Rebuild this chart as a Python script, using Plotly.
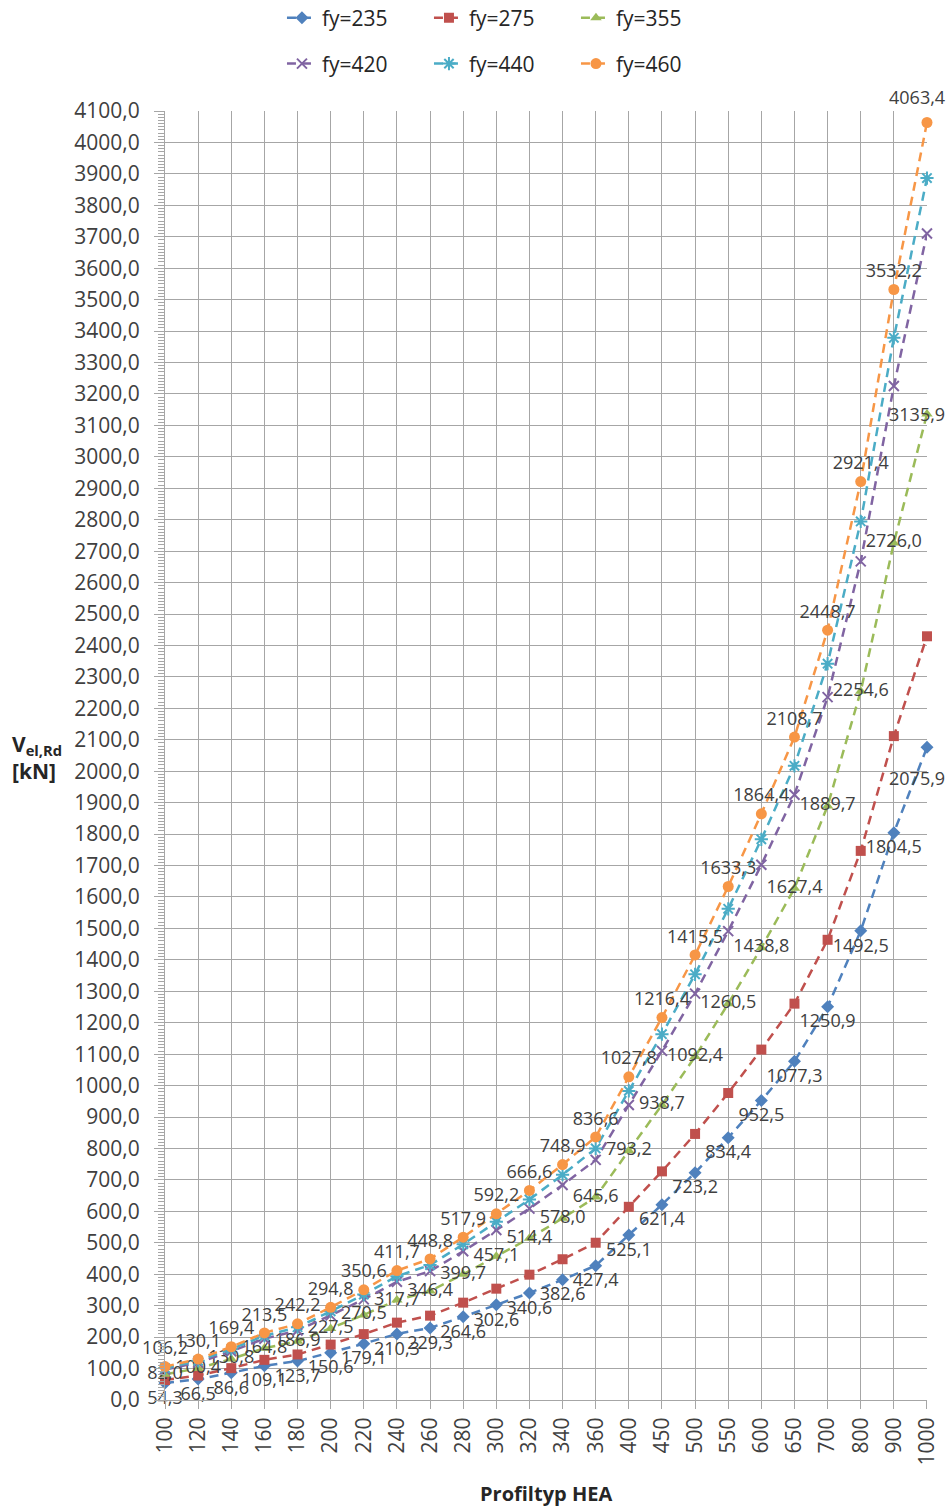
import plotly.graph_objects as go

categories = ["100", "120", "140", "160", "180", "200", "220", "240", "260", "280",
              "300", "320", "340", "360", "400", "450", "500", "550", "600", "650",
              "700", "800", "900", "1000"]

fy235 = [54.3, 66.5, 86.6, 109.1, 123.7, 150.6, 179.1, 210.3, 229.3, 264.6,
         302.6, 340.6, 382.6, 427.4, 525.1, 621.4, 723.2, 834.4, 952.5, 1077.3,
         1250.9, 1492.5, 1804.5, 2075.9]
fy275 = [63.5, 77.8, 101.3, 127.7, 144.8, 176.2, 209.6, 246.1, 268.3, 309.6,
         354.1, 398.6, 447.7, 500.2, 614.5, 727.2, 846.3, 976.4, 1114.6, 1260.7,
         1463.8, 1746.6, 2111.7, 2429.2]
fy355 = [82.0, 100.4, 130.8, 164.8, 186.9, 227.5, 270.5, 317.7, 346.4, 399.7,
         457.1, 514.4, 578.0, 645.6, 793.2, 938.7, 1092.4, 1260.5, 1438.8, 1627.4,
         1889.7, 2254.6, 2726.0, 3135.9]
fy420 = [97.0, 118.9, 154.8, 195.0, 221.1, 269.2, 320.1, 375.9, 409.8, 472.9,
         540.8, 608.7, 683.8, 763.9, 938.5, 1110.6, 1292.5, 1491.3, 1702.3, 1925.4,
         2235.6, 2667.4, 3225.1, 3710.1]
fy440 = [101.7, 124.5, 162.1, 204.3, 231.6, 282.0, 335.3, 393.7, 429.3, 495.4,
         566.6, 637.7, 716.4, 800.2, 983.2, 1163.5, 1354.1, 1562.3, 1783.4, 2017.1,
         2342.1, 2794.5, 3378.6, 3886.8]
fy460 = [106.2, 130.1, 169.4, 213.5, 242.2, 294.8, 350.6, 411.7, 448.8, 517.9,
         592.2, 666.6, 748.9, 836.6, 1027.8, 1216.4, 1415.5, 1633.3, 1864.4, 2108.7,
         2448.7, 2921.4, 3532.2, 4063.4]

series_names = ["fy=235", "fy=275", "fy=355", "fy=420", "fy=440", "fy=460"]
series_values = [fy235, fy275, fy355, fy420, fy440, fy460]
colors = ["#4F81BD", "#C0504D", "#9BBB59", "#8064A2", "#4BACC6", "#F79646"]
symbols = ["diamond", "square", "triangle-up", "x-thin-open", "asterisk-open", "circle"]
msizes = [10, 10, 10, 10, 11, 11]
labelled = {0: "bottom center", 2: "middle center", 5: "top center"}
edge_yshift = {0: -31, 2: 0, 5: 26}

FONT = "Open Sans"
TXT = "#404040"
GRID = "#A6A6A6"

def fmt(v):
    return f"{v:.1f}".replace(".", ",")

fig = go.Figure()
for i, (name, vals) in enumerate(zip(series_names, series_values)):
    if i in labelled:
        texts = [fmt(v) for v in vals]
        texts[-1] = ""  # edge label drawn below, pulled inside the picture
        kw = dict(mode="lines+markers+text", text=texts,
                  textposition=labelled[i],
                  textfont=dict(family=FONT, size=18, color=TXT))
    else:
        kw = dict(mode="lines+markers")
    marker = dict(symbol=symbols[i], size=msizes[i], color=colors[i])
    if "open" in symbols[i]:
        marker["line"] = dict(color=colors[i], width=2)
    fig.add_trace(go.Scatter(
        x=categories, y=vals, name=name,
        line=dict(color=colors[i], width=2.5, dash="9px,6px"),
        marker=marker, cliponaxis=False,
        legend="legend" if i < 3 else "legend2",
        **kw))
    if i in labelled:
        fig.add_annotation(
            x=len(categories) - 1, y=vals[-1], xref="x", yref="y",
            text=fmt(vals[-1]), showarrow=False,
            xanchor="center", yanchor="middle", xshift=-10, yshift=edge_yshift[i],
            font=dict(family=FONT, size=18, color=TXT))

leg_common = dict(orientation="h", x=0.1535, xanchor="left", yanchor="middle",
                  font=dict(family=FONT, size=21, color="#262626"),
                  entrywidth=102, entrywidthmode="pixels", itemwidth=30,
                  bgcolor="rgba(0,0,0,0)")

fig.update_layout(
    width=952, height=1506,
    margin=dict(l=165, r=25, t=111, b=106, autoexpand=False),
    paper_bgcolor="white", plot_bgcolor="white",
    separators=",.",
    font=dict(family=FONT, color=TXT),
    showlegend=True,
    legend=dict(y=1.0721, **leg_common),
    legend2=dict(y=1.0365, **leg_common),
)

fig.update_xaxes(
    type="category", range=[-0.0005, len(categories) - 1 + 0.0005],
    showgrid=True, gridcolor=GRID, gridwidth=1,
    showline=True, linecolor=GRID, linewidth=1,
    ticks="outside", ticklen=8, tickcolor=GRID,
    tickangle=-90, tickfont=dict(family=FONT, size=21, color=TXT),
    zeroline=False, automargin=False,
)
fig.update_yaxes(
    range=[0, 4100], dtick=100, tick0=0, tickformat=".1f",
    showgrid=True, gridcolor=GRID, gridwidth=1,
    showline=True, linecolor=GRID, linewidth=1,
    ticks="outside", ticklen=10, tickcolor=GRID,
    ticklabelstandoff=10,
    minor=dict(dtick=10, ticks="outside", ticklen=6, tickcolor=GRID, showgrid=False),
    tickfont=dict(family=FONT, size=21, color=TXT),
    zeroline=False, automargin=False,
)

fig.add_annotation(
    text="<b>V<sub>el,Rd</sub><br>[kN]</b>", xref="paper", yref="paper",
    x=-0.168, y=0.4988, xanchor="center", yanchor="middle", showarrow=False,
    font=dict(family=FONT, size=21, color="#262626"), align="left",
)
fig.add_annotation(
    text="<b>Profiltyp HEA</b>", xref="paper", yref="paper",
    x=0.5, y=-0.0722, xanchor="center", yanchor="middle", showarrow=False,
    font=dict(family=FONT, size=20, color="#262626"),
)

fig.write_html("out.html",
               config={"displayModeBar": False},
               post_script="document.body.style.margin='0';document.body.style.overflow='hidden';")
